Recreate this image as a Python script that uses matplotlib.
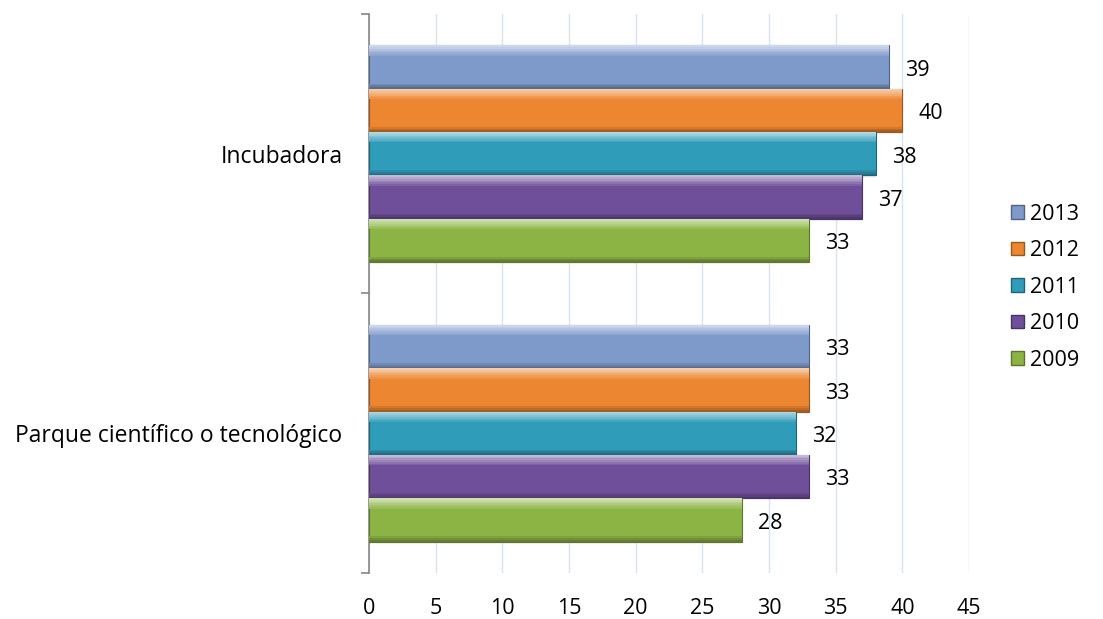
import numpy as np
import matplotlib.pyplot as plt
from matplotlib.patches import Patch
from matplotlib.colors import to_rgb

# ----------------------------- Data -----------------------------
categories = ["Parque científico o tecnológico", "Incubadora"]
years = ["2013", "2012", "2011", "2010", "2009"]
values_2013 = [33, 39]
values_2012 = [33, 40]
values_2011 = [32, 38]
values_2010 = [33, 37]
values_2009 = [28, 33]
series = [values_2013, values_2012, values_2011, values_2010, values_2009]
xticks = [0, 5, 10, 15, 20, 25, 30, 35, 40, 45]

colors = ["#7e9acb", "#ec8630", "#2f9cba", "#6f4f9a", "#8cb445"]


def shade(c, f):
    r, g, b = to_rgb(c)
    if f > 0:
        return (r + (1 - r) * f, g + (1 - g) * f, b + (1 - b) * f)
    return (r * (1 + f), g * (1 + f), b * (1 + f))


plt.rcParams["font.family"] = ["Open Sans", "DejaVu Sans"]
FS = 15.5

fig = plt.figure(figsize=(11.03, 6.19), dpi=100)
ax = fig.add_axes([0.3345, 0.0743, 0.544, 0.9031])

bar_h = 0.155
y = np.arange(len(categories))

for i, (vals, col) in enumerate(zip(series, colors)):
    off = (2 - i) * bar_h
    ypos = y + off
    # soft shadow under the bar
    for k, a in enumerate([0.10, 0.06, 0.03]):
        ax.barh(ypos - bar_h * 0.5 - 0.004 * k, vals, height=0.006, align="edge",
                color="#000000", alpha=a, linewidth=0, zorder=2)
    # body
    ax.barh(ypos, vals, height=bar_h, color=col, edgecolor=shade(col, -0.35),
            linewidth=0.8, zorder=3)
    # top highlight bevel, fading downwards
    n = 6
    for k in range(n):
        f = 0.6 * (1 - k / n)
        ax.barh(ypos + bar_h * 0.5 - bar_h * 0.04 * k, vals, height=-bar_h * 0.04,
                align="edge", color=shade(col, f), linewidth=0, zorder=4)
    # bottom dark bevel
    for k in range(3):
        f = -0.3 * (1 - k / 3)
        ax.barh(ypos - bar_h * 0.5 + bar_h * 0.04 * k, vals, height=bar_h * 0.04,
                align="edge", color=shade(col, f), linewidth=0, zorder=4)
    for yy, v in zip(ypos, vals):
        ax.text(v + 1.2, yy - 0.012, f"{v}", ha="left", va="center",
                fontsize=FS, color="#000000", zorder=5)

ax.set_xlim(0, 45)
ax.set_ylim(-0.5, 1.5)
ax.set_xticks(xticks)
ax.set_xticklabels([str(t) for t in xticks], fontsize=FS)
ax.tick_params(axis="x", length=0, pad=18)
ax.xaxis.grid(True, color="#d7e2ef", linewidth=1.0, zorder=0)
ax.set_axisbelow(True)

ax.set_yticks(y)
ax.set_yticklabels(categories, fontsize=16.5)
ax.set_yticks([-0.5, 0.5, 1.5], minor=True)
ax.tick_params(axis="y", which="major", length=0, pad=19)
ax.tick_params(axis="y", which="minor", length=6, width=1.2, color="#868686")

for s in ["top", "right", "bottom"]:
    ax.spines[s].set_visible(False)
ax.spines["left"].set_color("#868686")
ax.spines["left"].set_linewidth(1.2)

handles = [Patch(facecolor=c, edgecolor=shade(c, -0.35)) for c in colors]
fig.legend(handles, years, loc="center left", bbox_to_anchor=(0.917, 0.536),
           frameon=False, fontsize=FS, handlelength=0.6, handleheight=0.6,
           handletextpad=0.25, labelspacing=0.72, borderpad=0, borderaxespad=0)

fig.savefig("out.png", dpi=100)
